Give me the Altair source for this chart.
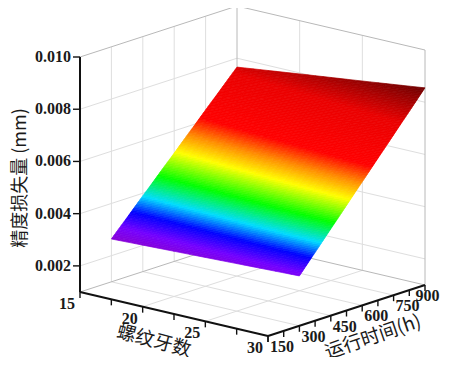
import altair as alt
import pandas as pd

# ---------------- data ----------------
threads = [15, 20, 25, 30]                 # 螺纹牙数
hours = [300, 450, 600, 750, 900]          # 运行时间 (h)
loss = [                                   # 精度损失量 (mm): rows = hours, cols = threads
    [0.00264, 0.00273, 0.00282, 0.00291],
    [0.00390, 0.00404, 0.00418, 0.00432],
    [0.00515, 0.00535, 0.00554, 0.00573],
    [0.00641, 0.00665, 0.00689, 0.00714],
    [0.00766, 0.00796, 0.00825, 0.00855],
]
thread_major = [15, 20, 25, 30]
thread_minor = [17.5, 22.5, 27.5]
hour_major = [150, 300, 450, 600, 750, 900]
hour_minor = [225, 375, 525, 675, 825]
z_major = [0.002, 0.004, 0.006, 0.008, 0.010]
z_labels = ["0.002", "0.004", "0.006", "0.008", "0.010"]

# colour map (loss value -> colour)
cmap_stops = [0.0026, 0.0030, 0.00345, 0.0039, 0.0045, 0.0052, 0.0057, 0.0062, 0.0075, 0.0086]
cmap_colors = ["#8a00d0", "#7400ff", "#0000ff", "#00dcff", "#00ff00", "#ffff00",
               "#ff8c00", "#ff0000", "#ea0000", "#6a0000"]

N_LO, N_HI = 15, 30
T_LO, T_HI = 150, 900
Z_LO, Z_HI = 0.001, 0.010

# ---------------- oblique view (px in plot area) ----------------
W, H = 435, 349
ORIGIN = (72.0, 284.0)     # corner (15, 150, 0.001)
EN = (188.0, 44.0)         # full threads edge
ET = (157.0, -51.0)        # full hours edge
EZ = (0.0, -235.0)         # full loss edge


def proj(n, t, z):
    u = (n - N_LO) / (N_HI - N_LO)
    v = (t - T_LO) / (T_HI - T_LO)
    w = (z - Z_LO) / (Z_HI - Z_LO)
    return (ORIGIN[0] + u * EN[0] + v * ET[0] + w * EZ[0],
            ORIGIN[1] + u * EN[1] + v * ET[1] + w * EZ[1])


def seg(p, q):
    return {"x": p[0], "y": p[1], "x2": q[0], "y2": q[1]}


xs = alt.Scale(domain=[0, W], nice=False, zero=False)
ys = alt.Scale(domain=[0, H], nice=False, zero=False, reverse=True)


def rules(rows, color, width):
    return alt.Chart(pd.DataFrame(rows)).mark_rule(color=color, strokeWidth=width).encode(
        x=alt.X("x:Q", scale=xs, axis=None), y=alt.Y("y:Q", scale=ys, axis=None),
        x2="x2:Q", y2="y2:Q")


# ---- grid lines on walls and floor ----
grid = []
for t in hour_major[1:-1]:
    grid.append(seg(proj(N_LO, t, Z_LO), proj(N_LO, t, Z_HI)))      # back-left wall
    grid.append(seg(proj(N_LO, t, Z_LO), proj(N_HI, t, Z_LO)))      # floor
for n in thread_major[1:-1]:
    grid.append(seg(proj(n, T_HI, Z_LO), proj(n, T_HI, Z_HI)))      # back-right wall
    grid.append(seg(proj(n, T_LO, Z_LO), proj(n, T_HI, Z_LO)))      # floor
for z in z_major[:-1]:
    grid.append(seg(proj(N_LO, T_LO, z), proj(N_LO, T_HI, z)))
    grid.append(seg(proj(N_LO, T_HI, z), proj(N_HI, T_HI, z)))

frame = [
    seg(proj(N_LO, T_LO, Z_HI), proj(N_LO, T_HI, Z_HI)),
    seg(proj(N_LO, T_HI, Z_HI), proj(N_HI, T_HI, Z_HI)),
    seg(proj(N_LO, T_HI, Z_LO), proj(N_LO, T_HI, Z_HI)),
    seg(proj(N_HI, T_HI, Z_LO), proj(N_HI, T_HI, Z_HI)),
    seg(proj(N_LO, T_LO, Z_LO), proj(N_LO, T_HI, Z_LO)),
    seg(proj(N_LO, T_HI, Z_LO), proj(N_HI, T_HI, Z_LO)),
]

axes_lines = [
    seg(proj(N_LO, T_LO, Z_LO), proj(N_LO, T_LO, Z_HI)),
    seg(proj(N_LO, T_LO, Z_LO), proj(N_HI, T_LO, Z_LO)),
    seg(proj(N_HI, T_LO, Z_LO), proj(N_HI, T_HI, Z_LO)),
]

ticks = []
for z in z_major:
    p = proj(N_LO, T_LO, z)
    ticks.append(seg(p, (p[0] - 7, p[1])))
for n in thread_major + thread_minor:
    p = proj(n, T_LO, Z_LO)
    ticks.append(seg(p, (p[0], p[1] + 6)))
for t in hour_major + hour_minor:
    p = proj(N_HI, t, Z_LO)
    ticks.append(seg(p, (p[0], p[1] + 6)))

# ---- surface (mesh cells shaded with sub-facets) ----
SUB_T, SUB_N = 30, 8
feats = []
for i in range(len(hours) - 1):
    for j in range(len(threads) - 1):
        z00, z01 = loss[i][j], loss[i][j + 1]
        z10, z11 = loss[i + 1][j], loss[i + 1][j + 1]

        def pt(fa, fb):
            n = threads[j] + fb * (threads[j + 1] - threads[j])
            t = hours[i] + fa * (hours[i + 1] - hours[i])
            z = (z00 * (1 - fa) * (1 - fb) + z01 * (1 - fa) * fb
                 + z10 * fa * (1 - fb) + z11 * fa * fb)
            return z, proj(n, t, z)

        for a in range(SUB_T):
            for b in range(SUB_N):
                fa0, fa1 = a / SUB_T, (a + 1) / SUB_T
                fb0, fb1 = b / SUB_N, (b + 1) / SUB_N
                corners = [pt(fa0, fb0), pt(fa0, fb1), pt(fa1, fb1), pt(fa1, fb0)]
                zc = sum(c[0] for c in corners) / 4
                ring = [list(c[1]) for c in corners] + [list(corners[0][1])]
                feats.append({"type": "Feature",
                              "geometry": {"type": "Polygon", "coordinates": [ring]},
                              "properties": {"z": zc}})

cscale = alt.Scale(domain=cmap_stops, range=cmap_colors, interpolate="rgb")
surface = alt.Chart(alt.Data(values=feats)).mark_geoshape(strokeWidth=0.7).encode(
    color=alt.Color("properties.z:Q", scale=cscale, legend=None),
    stroke=alt.Stroke("properties.z:Q", scale=cscale, legend=None),
).project(type="identity", scale=1, translate=[0, 0])

# ---- labels ----
FS = 16
lab = []
for z, s in zip(z_major, z_labels):
    p = proj(N_LO, T_LO, z)
    lab.append({"x": p[0] - 9, "y": p[1], "t": s, "al": "right"})
for n in thread_major:
    p = proj(n, T_LO, Z_LO)
    lab.append({"x": p[0] - 13, "y": p[1] + 12, "t": str(n), "al": "center"})
for t in hour_major:
    p = proj(N_HI, t, Z_LO)
    half = 0.3 * FS * len(str(t)) + 1
    lab.append({"x": min(p[0] + 14, W - half), "y": p[1] + 11, "t": str(t), "al": "center"})
lab_df = pd.DataFrame(lab)


def texts(df, align):
    return alt.Chart(df).mark_text(font="Liberation Serif", fontWeight="bold", fontSize=FS,
                                   color="#1a1a1a", align=align, baseline="middle").encode(
        x=alt.X("x:Q", scale=xs, axis=None), y=alt.Y("y:Q", scale=ys, axis=None), text="t:N")


tick_text_r = texts(lab_df[lab_df.al == "right"], "right")
tick_text_c = texts(lab_df[lab_df.al == "center"], "center")

titles = [
    {"x": 13, "y": 170, "t": "精度损失量 (mm)", "ang": 270, "fs": 18},
    {"x": 146, "y": 333, "t": "螺纹牙数", "ang": 15, "fs": 19},
    {"x": 365, "y": 329, "t": "运行时间(h)", "ang": 341, "fs": 19},
]
title_layers = []
for tt in titles:
    title_layers.append(
        alt.Chart(pd.DataFrame([tt])).mark_text(
            font="Noto Sans CJK SC", fontSize=tt["fs"], color="#1a1a1a", angle=tt["ang"],
            align="center", baseline="middle").encode(
            x=alt.X("x:Q", scale=xs, axis=None), y=alt.Y("y:Q", scale=ys, axis=None), text="t:N"))

chart = alt.layer(
    rules(grid, "#dedede", 1),
    rules(frame, "#b8b8b8", 1),
    surface,
    rules(axes_lines, "#111111", 2),
    rules(ticks, "#111111", 1.4),
    tick_text_r, tick_text_c, *title_layers,
).properties(width=W, height=H, padding=0, autosize=alt.AutoSizeParams(type="none"),
             background="white").configure_view(stroke=None)

chart.save("out.html", embed_options={"renderer": "svg", "actions": False})
